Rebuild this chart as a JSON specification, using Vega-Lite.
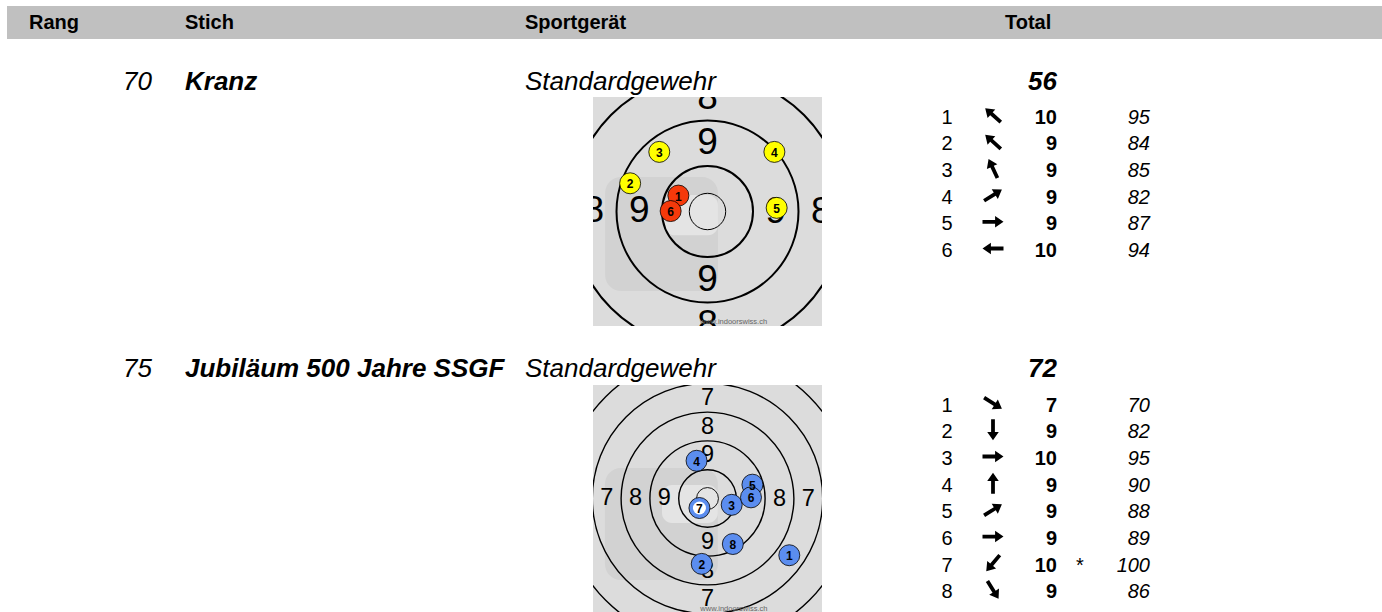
{
  "$schema": "https://vega.github.io/schema/vega-lite/v6.json",
  "padding": {"left": 7, "top": 6, "right": 0, "bottom": 0},
  "autosize": {"type": "pad"},
  "background": "white",
  "spacing": 0,
  "config": {
    "view": {"stroke": null},
    "font": "Liberation Sans",
    "text": {"font": "Liberation Sans", "color": "black"},
    "concat": {"spacing": 0}
  },
  "datasets": {
    "stiche": [
      {"rang": 70, "stich": "Kranz", "geraet": "Standardgewehr", "total": 56},
      {"rang": 75, "stich": "Jubiläum 500 Jahre SSGF", "geraet": "Standardgewehr", "total": 72}
    ],
    "schuesse1": [
      {"schuss": 1, "richtung": 312, "wert": 10, "stern": "", "zehntel": 95, "x": -0.64, "y": 0.35},
      {"schuss": 2, "richtung": 312, "wert": 9, "stern": "", "zehntel": 84, "x": -1.7, "y": 0.62},
      {"schuss": 3, "richtung": 335, "wert": 9, "stern": "", "zehntel": 85, "x": -1.06, "y": 1.31},
      {"schuss": 4, "richtung": 58, "wert": 9, "stern": "", "zehntel": 82, "x": 1.47, "y": 1.31},
      {"schuss": 5, "richtung": 90, "wert": 9, "stern": "", "zehntel": 87, "x": 1.52, "y": 0.08},
      {"schuss": 6, "richtung": 270, "wert": 10, "stern": "", "zehntel": 94, "x": -0.81, "y": 0.01}
    ],
    "schuesse2": [
      {"schuss": 1, "richtung": 122, "wert": 7, "stern": "", "zehntel": 70, "x": 2.84, "y": -1.97},
      {"schuss": 2, "richtung": 180, "wert": 9, "stern": "", "zehntel": 82, "x": -0.2, "y": -2.27},
      {"schuss": 3, "richtung": 90, "wert": 10, "stern": "", "zehntel": 95, "x": 0.84, "y": -0.22},
      {"schuss": 4, "richtung": 0, "wert": 9, "stern": "", "zehntel": 90, "x": -0.38, "y": 1.31},
      {"schuss": 5, "richtung": 58, "wert": 9, "stern": "", "zehntel": 88, "x": 1.56, "y": 0.48},
      {"schuss": 6, "richtung": 90, "wert": 9, "stern": "", "zehntel": 89, "x": 1.51, "y": 0.04},
      {"schuss": 7, "richtung": 220, "wert": 10, "stern": "*", "zehntel": 100, "x": -0.28, "y": -0.33},
      {"schuss": 8, "richtung": 148, "wert": 9, "stern": "", "zehntel": 86, "x": 0.88, "y": -1.58}
    ],
    "ringe1": [
      {"ring": "Innenzehn", "r": 0.4},
      {"ring": "10", "r": 1},
      {"ring": "9", "r": 2},
      {"ring": "8", "r": 3}
    ],
    "ringe2": [
      {"ring": "Innenzehn", "r": 0.38},
      {"ring": "10", "r": 1},
      {"ring": "9", "r": 2},
      {"ring": "8", "r": 3},
      {"ring": "7", "r": 4},
      {"ring": "6", "r": 5}
    ],
    "zahlen1": [
      {"zahl": 9, "r": 1.5},
      {"zahl": 8, "r": 2.5}
    ],
    "zahlen2": [
      {"zahl": 9, "r": 1.5},
      {"zahl": 8, "r": 2.5},
      {"zahl": 7, "r": 3.5}
    ]
  },
  "vconcat": [
    {
      "width": 1375,
      "height": 33,
      "view": {"fill": "#c0c0c0", "stroke": null},
      "data": {"values": [{}]},
      "layer": [
        {"mark": {"type": "text", "align": "left", "baseline": "alphabetic", "fontSize": 20, "fontWeight": "bold"},
         "encoding": {"x": {"value": 22}, "y": {"value": 23}, "text": {"value": "Rang"}}},
        {"mark": {"type": "text", "align": "left", "baseline": "alphabetic", "fontSize": 20, "fontWeight": "bold"},
         "encoding": {"x": {"value": 178}, "y": {"value": 23}, "text": {"value": "Stich"}}},
        {"mark": {"type": "text", "align": "left", "baseline": "alphabetic", "fontSize": 20, "fontWeight": "bold"},
         "encoding": {"x": {"value": 518}, "y": {"value": 23}, "text": {"value": "Sportgerät"}}},
        {"mark": {"type": "text", "align": "left", "baseline": "alphabetic", "fontSize": 20, "fontWeight": "bold"},
         "encoding": {"x": {"value": 998}, "y": {"value": 23}, "text": {"value": "Total"}}}
      ]
    },
    {
      "width": 1375,
      "height": 58,
      "data": {"name": "stiche"},
      "transform": [{"filter": "datum.rang == 70"}],
      "layer": [
        {"mark": {"type": "text", "align": "right", "baseline": "alphabetic", "fontSize": 26, "fontStyle": "italic"},
         "encoding": {"x": {"value": 145}, "y": {"value": 51}, "text": {"field": "rang"}}},
        {"mark": {"type": "text", "align": "left", "baseline": "alphabetic", "fontSize": 26, "fontStyle": "italic", "fontWeight": "bold"},
         "encoding": {"x": {"value": 178}, "y": {"value": 51}, "text": {"field": "stich"}}},
        {"mark": {"type": "text", "align": "left", "baseline": "alphabetic", "fontSize": 26, "fontStyle": "italic"},
         "encoding": {"x": {"value": 518}, "y": {"value": 51}, "text": {"field": "geraet"}}},
        {"mark": {"type": "text", "align": "right", "baseline": "alphabetic", "fontSize": 26, "fontStyle": "italic", "fontWeight": "bold"},
         "encoding": {"x": {"value": 1050}, "y": {"value": 51}, "text": {"field": "total"}}}
      ]
    },
    {
      "spacing": 0,
      "hconcat": [
        {"width": 586, "height": 229, "data": {"values": [{}]}, "mark": {"type": "text"}, "encoding": {"text": {"value": ""}}},
        {
          "width": 229,
          "height": 229,
          "view": {"fill": "#dcdcdc", "stroke": null},
          "layer": [
            {"data": {"values": [{}]},
             "mark": {"type": "rect", "color": "#d2d2d2", "cornerRadius": 16},
             "encoding": {
               "x": {"datum": -2.25, "type": "quantitative", "scale": {"domain": [-2.5165, 2.5165], "nice": false, "zero": false}, "axis": null},
               "x2": {"datum": 0.23},
               "y": {"datum": 0.76, "type": "quantitative", "scale": {"domain": [-2.5165, 2.5165], "nice": false, "zero": false}, "axis": null},
               "y2": {"datum": -1.75}}},
            {"data": {"values": [{}]},
             "mark": {"type": "rect", "color": "#e4e4e4", "cornerRadius": 10},
             "encoding": {
               "x": {"datum": -0.95, "type": "quantitative"},
               "x2": {"datum": 0.23},
               "y": {"datum": 0.36, "type": "quantitative"},
               "y2": {"datum": -0.52}}},
            {"data": {"name": "ringe1"},
             "transform": [{"filter": "datum.ring != 'Innenzehn'"}],
             "mark": {"type": "arc", "theta": 0, "theta2": 6.2832, "filled": false, "stroke": "black", "strokeWidth": 2, "clip": true},
             "encoding": {"radius": {"field": "r", "type": "quantitative", "stack": null, "scale": {"type": "linear", "domain": [0, 1], "range": [0, 45.5], "zero": true}}}},
            {"data": {"name": "ringe1"},
             "transform": [{"filter": "datum.ring == 'Innenzehn'"}],
             "mark": {"type": "arc", "theta": 0, "theta2": 6.2832, "filled": false, "stroke": "black", "strokeWidth": 1, "clip": true},
             "encoding": {"radius": {"field": "r", "type": "quantitative", "stack": null}}},
            {"data": {"name": "zahlen1"},
             "mark": {"type": "text", "fontSize": 37, "align": "center", "baseline": "middle", "clip": true, "theta": 0},
             "encoding": {"radius": {"field": "r", "type": "quantitative", "stack": null}, "text": {"field": "zahl"}}},
            {"data": {"name": "zahlen1"},
             "mark": {"type": "text", "fontSize": 37, "align": "center", "baseline": "middle", "clip": true, "theta": 1.5708},
             "encoding": {"radius": {"field": "r", "type": "quantitative", "stack": null}, "text": {"field": "zahl"}}},
            {"data": {"name": "zahlen1"},
             "mark": {"type": "text", "fontSize": 37, "align": "center", "baseline": "middle", "clip": true, "theta": 3.1416},
             "encoding": {"radius": {"field": "r", "type": "quantitative", "stack": null}, "text": {"field": "zahl"}}},
            {"data": {"name": "zahlen1"},
             "mark": {"type": "text", "fontSize": 37, "align": "center", "baseline": "middle", "clip": true, "theta": 4.7124},
             "encoding": {"radius": {"field": "r", "type": "quantitative", "stack": null}, "text": {"field": "zahl"}}},
            {"data": {"values": [{}]},
             "mark": {"type": "text", "fontSize": 7.5, "align": "left", "baseline": "middle", "color": "#666666", "clip": true},
             "encoding": {"x": {"datum": -0.165, "type": "quantitative"}, "y": {"datum": -2.42, "type": "quantitative"}, "text": {"value": "www.indoorswiss.ch"}}},
            {"data": {"name": "schuesse1"},
             "mark": {"type": "point", "shape": "circle", "filled": true, "size": 441, "stroke": "black", "strokeWidth": 0.8, "opacity": 1},
             "encoding": {
               "x": {"field": "x", "type": "quantitative"},
               "y": {"field": "y", "type": "quantitative"},
               "fill": {"field": "wert", "type": "nominal", "scale": {"domain": [9, 10], "range": ["#ffff00", "#f5390a"]}, "legend": null}}},
            {"data": {"name": "schuesse1"},
             "mark": {"type": "text", "fontSize": 12, "fontWeight": "bold", "align": "center", "baseline": "middle", "dy": 1},
             "encoding": {
               "x": {"field": "x", "type": "quantitative"},
               "y": {"field": "y", "type": "quantitative"},
               "text": {"field": "schuss"}}}
          ]
        },
        {
          "width": 560,
          "height": 229,
          "data": {"name": "schuesse1"},
          "layer": [
            {"mark": {"type": "text", "align": "center", "baseline": "alphabetic", "fontSize": 20},
             "encoding": {"x": {"value": 125}, "y": {"field": "schuss", "type": "quantitative", "scale": {"domain": [0, 8.587], "range": [0, 229], "nice": false, "zero": false}, "axis": null}, "text": {"field": "schuss"}}},
            {"mark": {"type": "point", "shape": "M -0.18 1 L 0.18 1 L 0.18 -0.2 L 0.55 -0.2 L 0 -1 L -0.55 -0.2 L -0.18 -0.2 Z", "filled": true, "color": "black", "size": 441, "opacity": 1, "yOffset": -8.5},
             "encoding": {"x": {"value": 171}, "y": {"field": "schuss", "type": "quantitative"}, "angle": {"field": "richtung", "type": "quantitative", "scale": null}}},
            {"mark": {"type": "text", "align": "right", "baseline": "alphabetic", "fontSize": 20, "fontWeight": "bold"},
             "encoding": {"x": {"value": 235}, "y": {"field": "schuss", "type": "quantitative"}, "text": {"field": "wert"}}},
            {"mark": {"type": "text", "align": "center", "baseline": "alphabetic", "fontSize": 20},
             "encoding": {"x": {"value": 258}, "y": {"field": "schuss", "type": "quantitative"}, "text": {"field": "stern"}}},
            {"mark": {"type": "text", "align": "right", "baseline": "alphabetic", "fontSize": 20, "fontStyle": "italic"},
             "encoding": {"x": {"value": 328}, "y": {"field": "schuss", "type": "quantitative"}, "text": {"field": "zehntel"}}}
          ]
        }
      ]
    },
    {
      "width": 1375,
      "height": 59,
      "data": {"name": "stiche"},
      "transform": [{"filter": "datum.rang == 75"}],
      "layer": [
        {"mark": {"type": "text", "align": "right", "baseline": "alphabetic", "fontSize": 26, "fontStyle": "italic"},
         "encoding": {"x": {"value": 145}, "y": {"value": 51}, "text": {"field": "rang"}}},
        {"mark": {"type": "text", "align": "left", "baseline": "alphabetic", "fontSize": 26, "fontStyle": "italic", "fontWeight": "bold"},
         "encoding": {"x": {"value": 178}, "y": {"value": 51}, "text": {"field": "stich"}}},
        {"mark": {"type": "text", "align": "left", "baseline": "alphabetic", "fontSize": 26, "fontStyle": "italic"},
         "encoding": {"x": {"value": 518}, "y": {"value": 51}, "text": {"field": "geraet"}}},
        {"mark": {"type": "text", "align": "right", "baseline": "alphabetic", "fontSize": 26, "fontStyle": "italic", "fontWeight": "bold"},
         "encoding": {"x": {"value": 1050}, "y": {"value": 51}, "text": {"field": "total"}}}
      ]
    },
    {
      "spacing": 0,
      "hconcat": [
        {"width": 586, "height": 227, "data": {"values": [{}]}, "mark": {"type": "text"}, "encoding": {"text": {"value": ""}}},
        {
          "width": 229,
          "height": 227,
          "view": {"fill": "#dcdcdc", "stroke": null},
          "layer": [
            {"data": {"values": [{}]},
             "mark": {"type": "rect", "color": "#d2d2d2", "cornerRadius": 16},
             "encoding": {
               "x": {"datum": -3.56, "type": "quantitative", "scale": {"domain": [-3.976, 3.976], "nice": false, "zero": false}, "axis": null},
               "x2": {"datum": 0.36},
               "y": {"datum": 1.06, "type": "quantitative", "scale": {"domain": [-3.941, 3.941], "nice": false, "zero": false}, "axis": null},
               "y2": {"datum": -2.83}}},
            {"data": {"values": [{}]},
             "mark": {"type": "rect", "color": "#e4e4e4", "cornerRadius": 10},
             "encoding": {
               "x": {"datum": -1.58, "type": "quantitative"},
               "x2": {"datum": 0.36},
               "y": {"datum": 0.47, "type": "quantitative"},
               "y2": {"datum": -0.85}}},
            {"data": {"name": "ringe2"},
             "transform": [{"filter": "datum.ring != 'Innenzehn'"}],
             "mark": {"type": "arc", "theta": 0, "theta2": 6.2832, "filled": false, "stroke": "black", "strokeWidth": 1.4, "clip": true},
             "encoding": {"radius": {"field": "r", "type": "quantitative", "stack": null, "scale": {"type": "linear", "domain": [0, 1], "range": [0, 28.8], "zero": true}}}},
            {"data": {"name": "ringe2"},
             "transform": [{"filter": "datum.ring == 'Innenzehn'"}],
             "mark": {"type": "arc", "theta": 0, "theta2": 6.2832, "filled": false, "stroke": "black", "strokeWidth": 0.9, "clip": true},
             "encoding": {"radius": {"field": "r", "type": "quantitative", "stack": null}}},
            {"data": {"name": "zahlen2"},
             "mark": {"type": "text", "fontSize": 23.5, "align": "center", "baseline": "middle", "clip": true, "theta": 0},
             "encoding": {"radius": {"field": "r", "type": "quantitative", "stack": null}, "text": {"field": "zahl"}}},
            {"data": {"name": "zahlen2"},
             "mark": {"type": "text", "fontSize": 23.5, "align": "center", "baseline": "middle", "clip": true, "theta": 1.5708},
             "encoding": {"radius": {"field": "r", "type": "quantitative", "stack": null}, "text": {"field": "zahl"}}},
            {"data": {"name": "zahlen2"},
             "mark": {"type": "text", "fontSize": 23.5, "align": "center", "baseline": "middle", "clip": true, "theta": 3.1416},
             "encoding": {"radius": {"field": "r", "type": "quantitative", "stack": null}, "text": {"field": "zahl"}}},
            {"data": {"name": "zahlen2"},
             "mark": {"type": "text", "fontSize": 23.5, "align": "center", "baseline": "middle", "clip": true, "theta": 4.7124},
             "encoding": {"radius": {"field": "r", "type": "quantitative", "stack": null}, "text": {"field": "zahl"}}},
            {"data": {"values": [{}]},
             "mark": {"type": "text", "fontSize": 7.5, "align": "left", "baseline": "middle", "color": "#666666", "clip": true},
             "encoding": {"x": {"datum": -0.25, "type": "quantitative"}, "y": {"datum": -3.85, "type": "quantitative"}, "text": {"value": "www.indoorswiss.ch"}}},
            {"data": {"name": "schuesse2"},
             "mark": {"type": "point", "shape": "circle", "filled": true, "size": 441, "stroke": "black", "strokeWidth": 0.8, "opacity": 1, "color": "#5b8def"},
             "encoding": {
               "x": {"field": "x", "type": "quantitative"},
               "y": {"field": "y", "type": "quantitative"}}},
            {"data": {"name": "schuesse2"},
             "transform": [{"filter": "datum.stern == '*'"}],
             "mark": {"type": "point", "shape": "circle", "filled": true, "size": 169, "color": "white", "opacity": 1, "strokeWidth": 0},
             "encoding": {
               "x": {"field": "x", "type": "quantitative"},
               "y": {"field": "y", "type": "quantitative"}}},
            {"data": {"name": "schuesse2"},
             "mark": {"type": "text", "fontSize": 12, "fontWeight": "bold", "align": "center", "baseline": "middle", "dy": 1},
             "encoding": {
               "x": {"field": "x", "type": "quantitative"},
               "y": {"field": "y", "type": "quantitative"},
               "text": {"field": "schuss"}}}
          ]
        },
        {
          "width": 560,
          "height": 227,
          "data": {"name": "schuesse2"},
          "layer": [
            {"mark": {"type": "text", "align": "center", "baseline": "alphabetic", "fontSize": 20},
             "encoding": {"x": {"value": 125}, "y": {"field": "schuss", "type": "quantitative", "scale": {"domain": [0, 8.511], "range": [0, 227], "nice": false, "zero": false}, "axis": null}, "text": {"field": "schuss"}}},
            {"mark": {"type": "point", "shape": "M -0.18 1 L 0.18 1 L 0.18 -0.2 L 0.55 -0.2 L 0 -1 L -0.55 -0.2 L -0.18 -0.2 Z", "filled": true, "color": "black", "size": 441, "opacity": 1, "yOffset": -8.5},
             "encoding": {"x": {"value": 171}, "y": {"field": "schuss", "type": "quantitative"}, "angle": {"field": "richtung", "type": "quantitative", "scale": null}}},
            {"mark": {"type": "text", "align": "right", "baseline": "alphabetic", "fontSize": 20, "fontWeight": "bold"},
             "encoding": {"x": {"value": 235}, "y": {"field": "schuss", "type": "quantitative"}, "text": {"field": "wert"}}},
            {"mark": {"type": "text", "align": "center", "baseline": "alphabetic", "fontSize": 20},
             "encoding": {"x": {"value": 258}, "y": {"field": "schuss", "type": "quantitative"}, "text": {"field": "stern"}}},
            {"mark": {"type": "text", "align": "right", "baseline": "alphabetic", "fontSize": 20, "fontStyle": "italic"},
             "encoding": {"x": {"value": 328}, "y": {"field": "schuss", "type": "quantitative"}, "text": {"field": "zehntel"}}}
          ]
        }
      ]
    }
  ]
}
